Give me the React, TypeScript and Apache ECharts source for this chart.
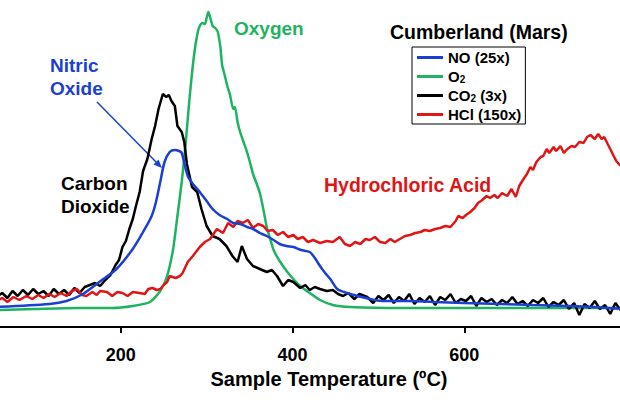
import React, { useEffect, useRef } from "react";
import * as echarts from "echarts";

// Sample temperature (ºC) vs. signal intensity (arbitrary units)
const xTicks = [0, 200, 400, 600, 800];

const seriesNames = ["NO (25x)", "O2", "CO2 (3x)", "HCl (150x)"];

const oxygen: [number, number][] = [
  [55, 17], [100, 18], [150, 19], [190, 19], [214, 21], [234, 25], [246, 36], [254, 51],
  [261, 78], [266, 111], [271, 145], [275, 178], [280, 228], [284, 262], [287, 282],
  [290, 296], [292, 301], [295, 304], [298, 303], [300, 309], [302, 315], [304, 310],
  [307, 301], [310, 299], [313, 295], [316, 280], [318, 262], [321, 252], [324, 241],
  [327, 233], [331, 218], [333, 220], [336, 205], [339, 195], [343, 185], [347, 175],
  [351, 163], [354, 153], [358, 144], [362, 134], [366, 118], [370, 100], [374, 88],
  [378, 77], [385, 66], [394, 55], [402, 47], [409, 41], [420, 34], [432, 27], [447, 22],
  [467, 20], [525, 19], [642, 19], [790, 19],
];

const nitricOxide: [number, number][] = [
  [55, 20], [117, 23], [137, 26], [156, 33], [175, 45], [195, 58], [214, 78], [226, 95],
  [236, 111], [241, 125], [246, 145], [251, 165], [257, 175], [263, 177], [268, 176],
  [271, 174], [278, 151], [285, 142], [292, 135], [300, 126], [307, 118], [315, 112],
  [324, 108], [331, 104], [339, 103], [347, 100], [354, 98], [362, 94], [370, 91],
  [378, 87], [385, 83], [393, 81], [401, 80], [410, 77], [420, 75], [426, 69], [432, 61],
  [438, 54], [444, 48], [452, 38], [460, 35], [467, 33], [485, 29], [505, 26], [535, 26],
  [564, 25], [600, 24], [642, 23], [680, 22], [720, 21], [750, 20], [786, 18],
];

const carbonDioxide: [number, number][] = [
  [55, 30], [62, 34], [68, 29], [74, 36], [80, 31], [86, 37], [92, 32], [98, 38], [104, 33],
  [110, 36], [116, 31], [122, 38], [128, 33], [134, 37], [140, 32], [146, 39], [152, 34],
  [158, 40], [164, 42], [170, 44], [176, 41], [182, 47], [188, 52], [194, 62], [198, 67],
  [202, 80], [206, 86], [210, 98], [214, 108], [218, 122], [222, 135], [226, 156], [231, 168],
  [236, 188], [240, 201], [244, 218], [249, 233], [253, 230], [256, 232], [259, 226],
  [263, 221], [266, 201], [271, 195], [274, 185], [277, 163], [283, 140], [289, 135],
  [294, 118], [300, 101], [307, 91], [315, 88], [323, 81], [330, 71], [336, 65], [341, 81],
  [347, 68], [354, 61], [362, 58], [370, 55], [376, 57], [382, 51], [389, 41], [395, 47],
  [401, 45], [409, 39], [415, 42], [420, 37], [426, 40], [432, 38], [440, 36], [447, 37],
  [453, 33], [459, 31], [465, 34], [472, 28], [478, 33], [487, 30], [494, 24], [500, 31],
  [506, 27], [512, 32], [518, 24], [524, 30], [530, 26], [536, 33], [542, 23], [548, 29],
  [554, 25], [560, 31], [566, 22], [572, 30], [578, 27], [584, 33], [590, 24], [596, 28],
  [602, 26], [608, 31], [614, 21], [620, 29], [626, 25], [632, 28], [638, 22], [644, 27],
  [650, 24], [656, 30], [662, 23], [668, 26], [674, 21], [680, 27], [686, 24], [692, 29],
  [698, 20], [704, 25], [710, 22], [716, 27], [722, 18], [728, 24], [734, 12], [740, 23],
  [746, 19], [752, 26], [758, 18], [764, 22], [770, 13], [776, 24], [782, 17], [786, 21],
];

const hydrochloricAcid: [number, number][] = [
  [55, 26], [62, 29], [68, 25], [75, 30], [82, 27], [90, 31], [97, 28], [104, 32], [110, 29],
  [117, 33], [123, 30], [130, 34], [137, 31], [143, 36], [149, 38], [155, 32], [160, 31],
  [167, 35], [172, 32], [176, 36], [184, 35], [190, 31], [196, 35], [202, 34], [208, 31],
  [214, 35], [222, 34], [228, 33], [232, 38], [237, 39], [242, 37], [246, 38], [250, 42],
  [254, 45], [257, 51], [264, 49], [269, 51], [272, 54], [278, 65], [284, 71], [292, 80],
  [298, 85], [304, 88], [312, 98], [319, 94], [325, 104], [331, 100], [336, 106], [342, 104],
  [348, 107], [354, 99], [360, 103], [366, 101], [371, 96], [377, 97], [383, 92], [389, 95],
  [395, 90], [401, 92], [406, 88], [412, 90], [418, 85], [424, 87], [432, 84], [440, 86],
  [447, 85], [455, 90], [461, 83], [467, 81], [473, 85], [479, 83], [485, 88], [490, 87],
  [496, 90], [502, 85], [508, 84], [514, 88], [519, 85], [525, 88], [531, 91], [537, 92],
  [543, 94], [549, 95], [554, 97], [560, 96], [566, 98], [572, 99], [578, 101], [584, 100],
  [590, 106], [593, 111], [598, 109], [602, 112], [607, 115], [612, 119], [616, 124],
  [621, 127], [626, 131], [630, 129], [635, 132], [639, 129], [644, 134], [650, 131],
  [655, 138], [660, 130], [664, 141], [669, 148], [673, 153], [677, 160], [680, 157],
  [684, 165], [689, 170], [692, 171], [696, 178], [699, 174], [704, 180], [707, 176],
  [712, 181], [716, 174], [720, 178], [725, 181], [729, 180], [734, 185], [739, 184],
  [743, 190], [747, 192], [752, 188], [756, 193], [760, 188], [763, 190], [767, 183],
  [770, 178], [774, 171], [777, 166], [781, 162], [786, 160],
];

const BLUE = "#1b3fd2";
const GREEN = "#1eb360";
const BLACK = "#000000";
const RED = "#e01515";
const FONT = "'Liberation Sans', Arial, sans-serif";

// The plot's 0 ºC lies left of the visible frame; the chart canvas is shifted left by this much.
const SHIFT = 51;
const CHART_W = 620 + SHIFT + 16;

export default function App() {
  const ref = useRef<HTMLDivElement>(null);

  useEffect(() => {
    if (!ref.current) return;
    const chart = echarts.init(ref.current, null, { renderer: "svg" });
    const lineSeries = (name: string, data: [number, number][], color: string, smooth: number | boolean, z: number) => ({
      name,
      type: "line",
      data,
      showSymbol: false,
      symbol: "none",
      smooth,
      z,
      itemStyle: { color },
      lineStyle: { color, width: 2.5 },
    });
    const legendText: Record<string, string> = {
      "NO (25x)": "{b|NO (25x)}",
      O2: "{b|O}{s|2}",
      "CO2 (3x)": "{b|CO}{s|2}{b| (3x)}",
      "HCl (150x)": "{b|HCl (150x)}",
    };
    const txt = (text: string, x: number, y: number, fill: string, size = 19) => ({
      type: "text",
      style: { text, x: x + SHIFT, y, fill, font: `bold ${size}px ${FONT}`, verticalAlign: "middle" },
    });
    chart.setOption({
      animation: false,
      backgroundColor: "#ffffff",
      grid: { left: 0, right: 0, top: 0, bottom: 73, containLabel: false, outerBoundsMode: "none" },
      xAxis: {
        type: "value",
        min: xTicks[0],
        max: xTicks[xTicks.length - 1],
        interval: 200,
        splitLine: { show: false },
        axisLine: { show: true, onZero: false, lineStyle: { color: "#000", width: 2 } },
        axisTick: { show: true, length: 6, lineStyle: { color: "#000", width: 2 } },
        axisLabel: {
          show: true,
          margin: 19,
          color: "#000",
          fontSize: 18,
          fontWeight: "bold",
          fontFamily: FONT,
          showMaxLabel: true,
          showMinLabel: false,
        },
        name: "Sample Temperature (ºC)",
        nameLocation: "middle",
        nameGap: 36,
        nameTextStyle: { color: "#000", fontSize: 20, fontWeight: "bold", fontFamily: FONT, padding: [0, 0, 0, 73] },
      },
      yAxis: { type: "value", min: 0, max: 327, show: false },
      legend: {
        data: seriesNames,
        orient: "vertical",
        left: 412 + SHIFT,
        top: 47,
        borderColor: "#000",
        borderWidth: 1,
        padding: [3, 4, 2, 5],
        itemGap: 4,
        itemWidth: 26,
        itemHeight: 3,
        icon: "rect",
        formatter: (name: string) => legendText[name] || name,
        textStyle: {
          color: "#000",
          rich: {
            b: { fontSize: 15, fontWeight: "bold", fontFamily: FONT, lineHeight: 15, color: "#000" },
            s: { fontSize: 10, fontWeight: "bold", fontFamily: FONT, lineHeight: 6, verticalAlign: "bottom", color: "#000" },
          },
        },
      },
      series: [
        lineSeries("O2", oxygen, GREEN, 0.2, 2),
        lineSeries("CO2 (3x)", carbonDioxide, BLACK, false, 3),
        lineSeries("HCl (150x)", hydrochloricAcid, RED, false, 4),
        lineSeries("NO (25x)", nitricOxide, BLUE, 0.3, 5),
      ],
      graphic: [
        txt("Oxygen", 234, 28, GREEN),
        txt("Nitric", 50, 65, BLUE),
        txt("Oxide", 50, 88, BLUE),
        txt("Carbon", 61, 183, BLACK),
        txt("Dioxide", 61, 206, BLACK),
        txt("Hydrochloric Acid", 324, 185, RED, 19.5),
        txt("Cumberland (Mars)", 390, 32, BLACK, 19.5),
        { type: "line", shape: { x1: 97 + SHIFT, y1: 102, x2: 158 + SHIFT, y2: 164 }, style: { stroke: BLUE, lineWidth: 1.5 } },
        { type: "polygon", shape: { points: [[162 + SHIFT, 168], [153.5 + SHIFT, 164.5], [158.5 + SHIFT, 159.5]] }, style: { fill: BLUE } },
      ],
    });
    return () => chart.dispose();
  }, []);

  return (
    <div style={{ position: "absolute", left: 0, top: 0, width: 620, height: 400, overflow: "hidden", background: "#fff" }}>
      <div ref={ref} style={{ position: "absolute", left: -SHIFT, top: 0, width: CHART_W, height: 400 }} />
    </div>
  );
}
